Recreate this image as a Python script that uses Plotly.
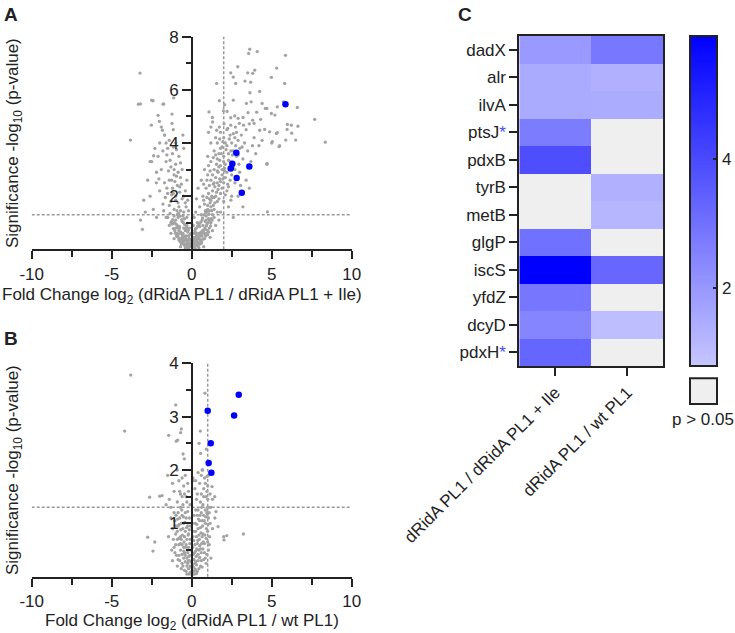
import plotly.graph_objects as go

W, H = 735, 633
FONT = "Liberation Sans, Arial, sans-serif"
INK = "#222222"
GRAY_PT = "#a3a3a3"
BLUE = "#0000ff"

# ---------------- data ----------------
P_THRESH = 1.3          # -log10(0.05)
FC_THRESH_A = 2
FC_THRESH_B = 1

A_BLUE = [(5.86, 5.46), (2.79, 3.63), (2.54, 3.22), (2.44, 3.04), (3.6, 3.12), (2.81, 2.68), (3.13, 2.13)]
A_GRAY = [
    (0.05,0.05),(-0.1,0.1),(0.15,0.12),(-0.2,0.2),(0.25,0.18),(0.1,0.3),(-0.3,0.25),(0.35,0.3),(-0.4,0.35),(0.45,0.4),
    (-0.5,0.3),(0.55,0.35),(-0.6,0.45),(0.65,0.5),(-0.35,0.5),(0.3,0.55),(-0.7,0.6),(0.75,0.62),(-0.25,0.65),(0.2,0.7),
    (-0.8,0.7),(0.85,0.75),(-0.5,0.8),(0.5,0.85),(-0.9,0.9),(0.95,0.95),(-0.15,0.4),(0.12,0.45),(-0.45,0.15),(0.4,0.12),
    (-0.65,0.2),(0.6,0.22),(-0.8,0.35),(0.8,0.4),(-0.95,0.5),(1.0,0.55),(-1.05,0.7),(1.1,0.8),(-1.2,0.95),(1.2,1.0),
    (-0.05,0.25),(0.02,0.18),(-0.55,0.6),(0.58,0.65),(-0.75,0.85),(0.7,0.9),(-0.3,0.9),(0.35,1.0),(-1.0,1.1),(1.05,1.15),
    (-0.6,1.05),(0.65,1.1),(0.9,1.25),(-0.85,1.2),(-1.3,0.6),(1.3,0.7),(-1.1,0.4),(1.15,0.45),(-0.2,0.02),(0.22,0.03),
    (-0.4,0.05),(0.45,0.06),(-0.7,0.1),(0.75,0.1),(0.3,0.8),(-0.4,0.7),(0.9,0.6),(-0.15,0.8),(0.1,0.9),(1.4,1.2),
    (1.5,0.9),(-1.4,0.9),(-1.5,1.2),(0.5,0.2),(-0.55,0.4),(0.25,0.45),(-0.25,0.35),(0.15,0.6),(-0.1,0.55),(1.6,1.4),
    (-0.08,0.15),(0.08,0.08),(-0.3,0.1),(0.3,0.15),(-0.6,0.3),(0.62,0.28),(-0.9,0.6),(0.88,0.5),(-0.2,0.5),(0.18,0.35),
    (-0.7,0.4),(0.7,0.72),(-1.0,0.8),(1.0,0.7),(-0.45,0.95),(0.45,0.6),(-0.35,0.75),(0.55,0.5),(-0.85,0.55),(0.85,1.05),
    (0.0,0.15),(-0.12,0.22),(0.18,0.25),(-0.28,0.3),(0.32,0.4),(-0.38,0.42),(0.42,0.48),(-0.48,0.5),(0.52,0.55),(-0.58,0.55),
    (0.62,0.6),(-0.68,0.65),(0.72,0.68),(-0.78,0.78),(0.82,0.8),(-0.88,0.82),(0.92,0.88),(-0.98,0.95),(1.02,1.0),(-1.08,1.0),
    (1.12,1.08),(-1.18,1.12),(1.22,1.15),(-0.22,0.72),(0.24,0.78),(-0.32,0.82),(0.38,0.88),(-0.42,0.92),(0.48,0.95),(-0.52,1.0),
    (0.56,1.02),(-0.62,1.12),(0.68,1.18),(-0.72,1.25),(0.78,1.3),(-0.82,1.35),(0.88,1.38),(-0.92,1.45),(0.98,1.42),(1.08,1.32),
    (-0.18,0.12),(0.14,0.2),(-0.34,0.18),(0.38,0.22),(-0.52,0.22),(0.56,0.28),(-0.72,0.28),(0.7,0.38),(-0.85,0.45),(0.86,0.55),
    (-1.02,0.6),(1.06,0.65),(-1.15,0.78),(1.18,0.88),(-1.25,1.05),(1.28,1.1),(-0.1,0.35),(0.05,0.4),(-0.05,0.6),(0.28,0.62),
    (-0.3,1.2),(-0.2,1.45),(0.15,1.2),(0.25,1.4),(-0.55,1.25),(-1.1,1.25),
    (1.0,1.5),(1.2,1.6),(1.4,1.5),(1.6,1.8),(0.8,1.7),(1.1,1.9),(1.5,2.0),(1.8,2.1),(0.7,2.0),(1.3,2.2),
    (1.7,2.4),(2.0,2.5),(0.9,2.3),(1.2,2.6),(1.5,2.7),(1.9,2.8),(2.2,2.9),(1.0,2.8),(1.4,3.0),(1.7,3.1),
    (2.1,3.2),(2.4,3.3),(1.2,3.3),(1.6,3.4),(2.0,3.5),(2.3,3.6),(2.6,3.7),(1.4,3.7),(1.8,3.8),(2.2,3.9),
    (2.5,4.0),(2.9,4.1),(1.6,4.0),(2.0,4.2),(2.4,4.3),(2.8,4.4),(3.1,4.3),(1.8,4.4),(2.2,4.5),(3.3,4.0),
    (3.0,3.8),(3.5,3.7),(2.8,3.5),(3.2,3.4),(2.6,3.1),(3.0,2.9),(2.4,2.6),(2.7,2.5),(2.2,2.2),(2.5,2.0),
    (2.0,1.8),(2.3,1.6),(1.8,1.4),(0.6,1.3),(0.9,1.1),(2.6,1.2),(3.8,3.9),(4.0,3.6),(3.7,3.3),(4.2,3.9),
    (3.9,4.2),(4.4,4.1),(3.4,2.6),(3.6,2.3),(2.9,2.0),(3.2,1.6),(1.1,2.4),(1.3,1.3),(1.7,1.1),(0.5,1.6),
    (0.4,2.3),(0.8,3.0),(1.0,3.5),(1.2,4.0),(0.6,2.6),(1.9,3.0),(2.1,2.7),(1.6,2.5),(2.35,3.0),(1.55,3.2),
    (1.85,3.6),(2.7,4.2),(3.4,4.5),(2.95,3.2),(1.45,2.35),(1.25,2.0),(1.9,2.3),(2.15,3.75),(0.95,1.95),(2.45,1.85),
    (4.7,3.2),(5.5,3.9),(5.0,4.0),(3.05,2.4),(1.05,4.4),(0.3,1.9),(4.73,1.41),(1.15,1.75),(1.35,2.45),(1.75,2.65),
    (2.05,3.05),(2.3,3.35),(1.5,3.55),(2.55,3.55),(2.75,3.9),(1.95,4.05),(0.75,2.45),(1.05,3.15),(1.65,2.9),(2.25,2.45),
    (1.1,1.45),(1.25,1.45),(1.35,1.65),(1.45,1.75),(1.0,1.65),(1.2,1.85),(1.3,1.95),(1.55,2.15),(1.65,2.25),(1.4,2.5),
    (1.8,2.55),(1.95,2.65),(1.3,2.8),(1.6,2.95),(1.8,3.15),(2.0,3.3),(1.35,3.45),(1.7,3.6),(1.9,3.85),(2.1,4.0),
    (2.35,4.15),(2.6,4.35),(1.5,4.2),(1.75,4.15),(0.85,1.45),(1.05,2.1),(0.75,1.85),(1.4,1.95),(1.7,1.9),(2.1,2.05),
    (2.3,2.35),(2.5,2.8),(2.7,3.0),(2.9,3.55),(3.15,3.85),(2.45,3.7),(2.05,2.95),(1.75,3.35),(1.15,2.95),(0.95,2.6),
    (3.63,7.53),(3.56,7.37),(4.1,7.44),(5.86,7.3),(2.88,6.87),(5.31,6.82),(2.44,6.64),(3.5,6.64),(3.81,6.62),(3.94,6.74),
    (2.6,6.48),(4.98,6.47),(1.56,6.24),(2.75,6.24),(3.33,6.33),(3.69,6.29),(3.64,5.89),(4.25,5.94),(5.81,6.24),(2.6,5.61),
    (3.42,5.49),(3.71,5.55),(4.4,5.49),(2.06,5.44),(1.73,5.59),(1.08,5.17),(1.29,4.96),(1.98,5.21),(2.21,5.19),(2.44,4.95),
    (2.69,5.02),(2.9,4.93),(3.21,4.96),(3.52,5.14),(4.06,5.16),(4.6,5.3),(4.7,5.3),(5.35,5.36),(5.73,5.55),(6.6,5.34),
    (7.69,4.89),(4.98,5.11),(5.2,5.05),(4.31,4.89),(3.81,4.86),(3.9,4.74),(3.6,4.72),(3.24,4.67),(2.98,4.74),(2.73,4.6),
    (2.44,4.67),(2.25,4.55),(2.02,4.72),(1.73,4.6),(1.31,4.79),(1.2,4.6),(1.56,4.48),(5.98,4.7),(6.23,4.67),(5.35,4.39),
    (4.56,4.51),(4.25,4.48),(4.87,4.42),(8.35,4.03),(6.64,4.63),(5.96,4.51),(6.25,4.37),(5.88,4.11),(6.5,4.11),(5.29,4.36),
    (5.04,4.05),(5.46,3.86),(4.71,3.23),
    (-0.5,1.4),(-0.8,1.6),(-1.1,1.5),(-0.6,1.9),(-1.0,2.0),(-1.3,1.8),(-0.4,2.2),(-0.9,2.4),(-1.2,2.3),(-1.5,2.1),
    (-0.7,2.7),(-1.1,2.8),(-1.4,2.6),(-1.7,2.5),(-0.6,3.0),(-1.0,3.2),(-1.3,3.1),(-1.6,3.3),(-1.9,3.0),(-0.8,3.5),
    (-1.2,3.6),(-1.5,3.8),(-1.8,3.7),(-2.1,3.5),(-1.0,4.0),(-1.4,4.1),(-1.7,4.3),(-2.0,4.0),(-0.5,3.8),(-0.3,2.6),
    (-2.2,2.9),(-2.0,2.2),(-1.8,1.7),(-2.4,1.5),(-2.2,1.2),(-2.6,2.0),(-1.6,1.2),(-1.3,1.0),(-0.35,1.6),(-0.55,4.3),
    (-1.15,4.5),(-1.9,4.6),(-2.3,3.8),(-2.6,3.3),(-0.9,1.3),(-1.45,2.95),(-1.05,2.55),(-0.75,2.15),(-1.65,1.95),(-0.45,1.15),
    (-3.2,1.1),(-2.9,1.4),(-1.1,3.0),(-0.95,3.75),(-1.55,3.55),(-3.08,0.75),(-3.0,1.85),(-2.75,2.6),(-2.5,3.3),(-2.38,3.52),
    (-2.21,2.5),(-3.83,4.11),(-1.35,1.35),(-1.75,1.45),(-0.65,2.45),(-1.25,2.05),(-2.05,2.65),(-0.85,2.9),(-1.55,2.3),(-0.25,1.85),
    (-0.7,1.45),(-0.85,1.75),(-1.0,1.85),(-1.15,2.1),(-0.5,2.0),(-0.75,2.35),(-1.25,2.6),(-0.95,2.75),(-1.35,3.35),
    (-0.7,3.25),(-1.15,3.85),(-1.6,4.0),(-0.4,1.75),(-1.4,1.65),
    (-3.23,6.63),(-3.2,5.47),(-2.42,5.59),(-1.75,5.47),(-1.125,5.7),(-2.1,5.04),(-2.02,4.81),(-2.52,4.67),(-1.23,5.09),(-1.23,4.74),
    (-1.83,4.48),(-1.69,4.3),(-3.33,5.46),(-1.79,5.46),(-2.5,5.61),
]

B_BLUE = [(2.94, 3.41), (1.0, 3.11), (2.65, 3.02), (1.19, 2.5), (1.06, 2.13), (1.23, 1.95)]
B_GRAY = [
    (0.02,0.03),(-0.1,0.08),(0.12,0.1),(-0.2,0.15),(0.22,0.14),(-0.3,0.2),(0.3,0.22),(-0.4,0.28),(0.4,0.3),(-0.5,0.35),
    (0.5,0.36),(-0.6,0.42),(0.6,0.45),(-0.7,0.5),(0.7,0.52),(-0.8,0.6),(0.8,0.62),(-0.9,0.7),(0.9,0.72),(-1.0,0.8),
    (1.0,0.85),(-0.15,0.3),(0.15,0.32),(-0.25,0.45),(0.25,0.48),(-0.35,0.6),(0.35,0.62),(-0.45,0.75),(0.45,0.78),(-0.55,0.9),
    (0.55,0.92),(-0.65,1.0),(0.65,1.05),(-0.75,1.1),(0.75,1.15),(-0.85,1.2),(0.85,1.25),(-0.05,0.18),(0.05,0.22),(-0.12,0.4),
    (0.1,0.42),(-0.2,0.55),(0.2,0.6),(-0.3,0.7),(0.3,0.75),(-0.4,0.85),(0.4,0.9),(-0.5,1.0),(0.5,1.05),(-0.6,1.15),
    (0.6,1.2),(-1.1,0.55),(1.1,0.6),(-1.2,0.9),(1.15,1.0),(-0.95,0.4),(0.95,0.42),(-0.75,0.3),(0.75,0.32),(-0.55,0.2),
    (0.55,0.2),(-0.35,0.1),(0.35,0.1),(-0.15,0.05),(0.18,0.05),(-1.3,1.1),(1.2,1.3),(-0.25,0.95),(0.22,1.0),(-0.1,0.7),
    (0.08,0.75),(-0.4,1.2),(0.4,1.25),(-0.7,0.75),(0.7,0.8),(-0.85,0.95),(0.85,1.0),(-1.05,1.05),(1.05,1.1),(-0.3,0.35),
    (0.28,0.38),(-0.6,0.6),(0.62,0.62),(-0.9,0.2),(0.9,0.25),(-1.2,0.3),(1.2,0.35),(-0.5,0.55),(0.5,0.58),(0.15,0.85),
    (-0.15,0.88),(-0.08,0.5),(0.07,0.55),(-0.25,0.25),(0.25,0.28),(-0.45,0.45),(0.45,0.5),(-0.65,0.7),(0.65,0.75),(-0.2,0.8),
    (0.2,0.12),(-0.6,0.25),(0.6,0.3),(-0.8,0.4),(0.8,0.45),(-1.0,0.6),(1.0,0.65),(-0.35,1.1),(0.35,1.15),(0.95,1.2),
    (0.0,0.1),(-0.05,0.28),(0.08,0.32),(-0.18,0.38),(0.18,0.45),(-0.28,0.5),(0.32,0.52),(-0.38,0.55),(0.38,0.68),(-0.48,0.65),
    (0.48,0.7),(-0.58,0.78),(0.58,0.82),(-0.68,0.88),(0.68,0.95),(-0.78,0.98),(0.78,1.05),(-0.88,1.08),(0.88,1.12),(-0.98,1.15),
    (0.98,1.18),(-0.12,0.62),(0.12,0.68),(-0.22,0.78),(0.25,0.85),(-0.32,0.92),(0.32,0.98),(-0.42,1.02),(0.42,1.08),(-0.52,1.12),
    (0.52,1.15),(-0.62,1.25),(0.62,1.3),(-0.08,0.95),(0.05,1.0),(-0.15,1.1),(0.15,1.15),(-0.25,1.22),(0.25,1.25),(-0.45,0.12),
    (0.45,0.15),(-0.65,0.15),(0.65,0.18),(-0.85,0.32),(0.85,0.35),(-1.05,0.45),(1.05,0.5),(-1.15,0.7),(1.12,0.75),(-0.3,0.05),
    (0.3,0.06),(-0.1,0.2),(0.1,0.18),(-0.2,0.3),(0.2,0.25),(-0.4,0.4),(0.4,0.42),(-0.5,0.48),(0.55,0.52),(-0.7,0.62),
    (0.72,0.65),(-0.8,0.72),(0.82,0.78),(-0.9,0.85),(0.92,0.9),(-1.0,0.95),(1.02,0.98),(-1.1,1.2),(1.1,1.2),(-0.55,1.35),
    (0.55,1.4),(-0.35,1.5),(0.35,1.55),(-0.7,1.55),(0.75,1.5),(-0.25,1.75),(0.25,1.8),(-0.6,1.85),(0.6,1.9),(0.85,1.75),
    (1.0,1.45),(1.05,1.9),(0.98,1.3),(1.15,1.55),(-1.3,1.3),(-1.6,1.35),(-1.25,0.5),(1.3,0.9),(1.45,1.1),(-1.45,0.75),
    (-0.3,1.4),(0.3,1.45),(-0.6,1.5),(0.6,1.55),(-0.9,1.4),(0.9,1.5),(-0.5,1.7),(0.5,1.75),(-0.2,1.6),(0.2,1.65),
    (-0.8,1.8),(0.8,1.85),(-0.4,1.9),(0.4,1.95),(-1.1,1.6),(1.0,1.7),(-0.7,1.3),(0.7,1.35),(-1.4,1.45),(1.3,1.45),
    (-0.1,1.35),(0.1,1.8),(-1.5,1.9),(-0.9,2.0),(0.65,2.0),(1.1,1.3),(-1.2,1.75),(1.27,1.69),(1.44,1.5),(1.52,1.22),
    (1.65,0.94),(-0.75,1.6),(0.75,1.65),(-0.45,1.55),(0.95,1.6),
    (-3.81,3.78),(-4.19,2.73),(-1.0,3.22),(-1.44,2.65),(-0.875,2.56),(-0.69,2.7),(0.83,3.44),(0.54,2.73),(0.46,2.5),(0.92,2.39),
    (-0.54,2.3),(-0.46,2.21),(0.69,2.0),(0.96,1.88),(0.08,1.85),(-2.63,1.49),(-2.0,1.51),(-1.85,1.52),(-2.75,0.74),(-2.42,0.48),
    (-2.31,0.65),(2.02,0.69),(2.0,0.75),(2.19,0.77),(3.23,0.8),(-0.65,2.77),(-0.96,2.54),(0.56,2.31),
]

GENES = ["dadX", "alr", "ilvA", "ptsJ*", "pdxB", "tyrB", "metB", "glgP", "iscS", "yfdZ", "dcyD", "pdxH*"]
COMPARISONS = ["dRidA PL1 / dRidA PL1 + Ile", "dRidA PL1 / wt PL1"]
# None = p > 0.05
COL_IDLE = [1.97, 1.51, 1.51, 2.71, 3.89, None, None, 2.99, 5.9, 2.87, 2.48, 3.30]
COL_WT =   [2.84, 1.36, 1.46, None, None, 1.36, 1.21, None, 3.25, None, 1.00, None]
Z_MIN, Z_MAX = 0.8, 5.9
CB_TICKS = [2, 4]

# ---------------- helpers ----------------
def px(x):
    return x / W

def py(y):
    return 1 - y / H

fig = go.Figure()

def volcano(gray, blue, xa, ya):
    fig.add_trace(go.Scatter(x=[p[0] for p in gray], y=[p[1] for p in gray], mode="markers",
                             marker=dict(size=3.3, color=GRAY_PT, line=dict(width=0)),
                             xaxis=xa, yaxis=ya, showlegend=False, hoverinfo="skip"))
    fig.add_trace(go.Scatter(x=[p[0] for p in blue], y=[p[1] for p in blue], mode="markers",
                             marker=dict(size=6.5, color=BLUE, line=dict(width=0)),
                             xaxis=xa, yaxis=ya, showlegend=False, hoverinfo="skip"))

volcano(A_GRAY, A_BLUE, "x", "y")
volcano(B_GRAY, B_BLUE, "x2", "y2")

z = [[COL_IDLE[i], COL_WT[i]] for i in range(len(GENES))]
fig.add_trace(go.Heatmap(
    z=z, x=[0, 1], y=list(range(len(GENES))), xaxis="x3", yaxis="y3",
    zmin=Z_MIN, zmax=Z_MAX, colorscale=[[0, "#c6c6ff"], [1, "#0000ff"]],
    hoverongaps=False, showscale=True, showlegend=False,
    colorbar=dict(x=px(690), xanchor="left", xpad=0, y=py(36), yanchor="top", ypad=0,
                  len=330, lenmode="pixels", thickness=27, thicknessmode="pixels",
                  tickvals=CB_TICKS, ticks="inside", ticklen=5, tickwidth=1.5, tickcolor=INK,
                  outlinewidth=2, outlinecolor=INK, tickfont=dict(size=17, color=INK, family=FONT)),
))

axis_common = dict(showgrid=False, zeroline=False, showline=True, linewidth=2, linecolor=INK,
                   ticks="outside", tickwidth=2, tickcolor=INK, fixedrange=True, automargin=False,
                   tickfont=dict(size=17, color=INK, family=FONT))

x_ticks = [-10, -5, 0, 5, 10]
x_minor = dict(tickvals=[-7.5, -2.5, 2.5, 7.5], ticks="outside", ticklen=6, tickwidth=2, tickcolor=INK)

xdom = [px(31.7), px(351.7)]
fig.update_layout(
    xaxis=dict(axis_common, domain=xdom, range=[-10, 10], anchor="y", ticklen=8,
               tickvals=x_ticks, ticktext=[str(v) for v in x_ticks], minor=x_minor),
    yaxis=dict(axis_common, domain=[py(249.3), py(36.7)], range=[0, 8], anchor="free", position=px(192),
               ticklen=9, tickvals=[2, 4, 6, 8],
               minor=dict(tickvals=[1, 3, 5, 7], ticks="outside", ticklen=5, tickwidth=2, tickcolor=INK)),
    xaxis2=dict(axis_common, domain=xdom, range=[-10, 10], anchor="y2", ticklen=8,
                tickvals=x_ticks, ticktext=[str(v) for v in x_ticks], minor=x_minor),
    yaxis2=dict(axis_common, domain=[py(576.7), py(363.3)], range=[0, 4], anchor="free", position=px(192),
                ticklen=9, tickvals=[1, 2, 3, 4],
                minor=dict(tickvals=[0.5, 1.5, 2.5, 3.5], ticks="outside", ticklen=5, tickwidth=2, tickcolor=INK)),
    xaxis3=dict(axis_common, domain=[px(519.3), px(663.3)], range=[-0.5, 1.5], anchor="y3",
                tickvals=[0, 1], ticktext=COMPARISONS, tickangle=-45, ticklen=8, mirror=True),
    yaxis3=dict(axis_common, domain=[py(366), py(36)], range=[len(GENES) - 0.5, -0.5], anchor="x3",
                tickvals=list(range(len(GENES))), ticklen=8, mirror=True,
                ticktext=[g.replace("*", "<span style='color:#4a4aff'>*</span>") for g in GENES]),
    width=W, height=H, margin=dict(l=0, r=0, t=0, b=0, autoexpand=False),
    paper_bgcolor="white", plot_bgcolor="white", showlegend=False,
    font=dict(family=FONT, color=INK, size=17),
)

shapes = []
dash = "3px,2px"
for xa, ya, fc in [("x", "y", FC_THRESH_A), ("x2", "y2", FC_THRESH_B)]:
    shapes.append(dict(type="line", xref=xa, yref=ya, x0=-10, x1=10, y0=P_THRESH, y1=P_THRESH,
                       line=dict(color="#9a9a9a", width=1.5, dash=dash), layer="below"))
    shapes.append(dict(type="line", xref=xa, yref=ya + " domain", x0=fc, x1=fc, y0=0, y1=1,
                       line=dict(color="#9a9a9a", width=1.5, dash=dash), layer="below"))
shapes.append(dict(type="rect", xref="x3 domain", yref="y3 domain", x0=0, x1=1, y0=0, y1=1,
                   fillcolor="#efefef", line=dict(width=0), layer="below"))
cb_top, cb_len = 36, 330
for v in CB_TICKS:
    yy = cb_top + (Z_MAX - v) / (Z_MAX - Z_MIN) * cb_len
    shapes.append(dict(type="line", xref="paper", yref="paper", x0=px(690), x1=px(695), y0=py(yy), y1=py(yy),
                       line=dict(color=INK, width=1.5)))
shapes.append(dict(type="rect", xref="paper", yref="paper", x0=px(690), x1=px(717), y0=py(404), y1=py(378.3),
                   fillcolor="#efefef", line=dict(color=INK, width=2)))
fig.update_layout(shapes=shapes)

ann = [
    dict(text="<b>A</b>", x=px(2), y=py(2), xanchor="left", yanchor="top", font=dict(size=19)),
    dict(text="<b>B</b>", x=px(2), y=py(326), xanchor="left", yanchor="top", font=dict(size=19)),
    dict(text="<b>C</b>", x=px(456), y=py(2), xanchor="left", yanchor="top", font=dict(size=19)),
    dict(text="Significance -log<sub>10</sub> (p-value)", x=px(14), y=py(143), textangle=-90,
         xanchor="center", yanchor="middle"),
    dict(text="Significance -log<sub>10</sub> (p-value)", x=px(14), y=py(470), textangle=-90,
         xanchor="center", yanchor="middle"),
    dict(text="Fold Change log<sub>2</sub> (dRidA PL1 / dRidA PL1 + Ile)", x=px(182), y=py(296),
         xanchor="center", yanchor="middle"),
    dict(text="Fold Change log<sub>2</sub> (dRidA PL1 / wt PL1)", x=px(192), y=py(622),
         xanchor="center", yanchor="middle"),
    dict(text="p &gt; 0.05", x=px(703), y=py(419), xanchor="center", yanchor="middle"),
]
for a in ann:
    a.update(xref="paper", yref="paper", showarrow=False)
    a.setdefault("font", dict(size=17))
    a["font"] = dict(a["font"], family=FONT, color=INK)
fig.update_layout(annotations=ann)

fig.write_html("out.html")
